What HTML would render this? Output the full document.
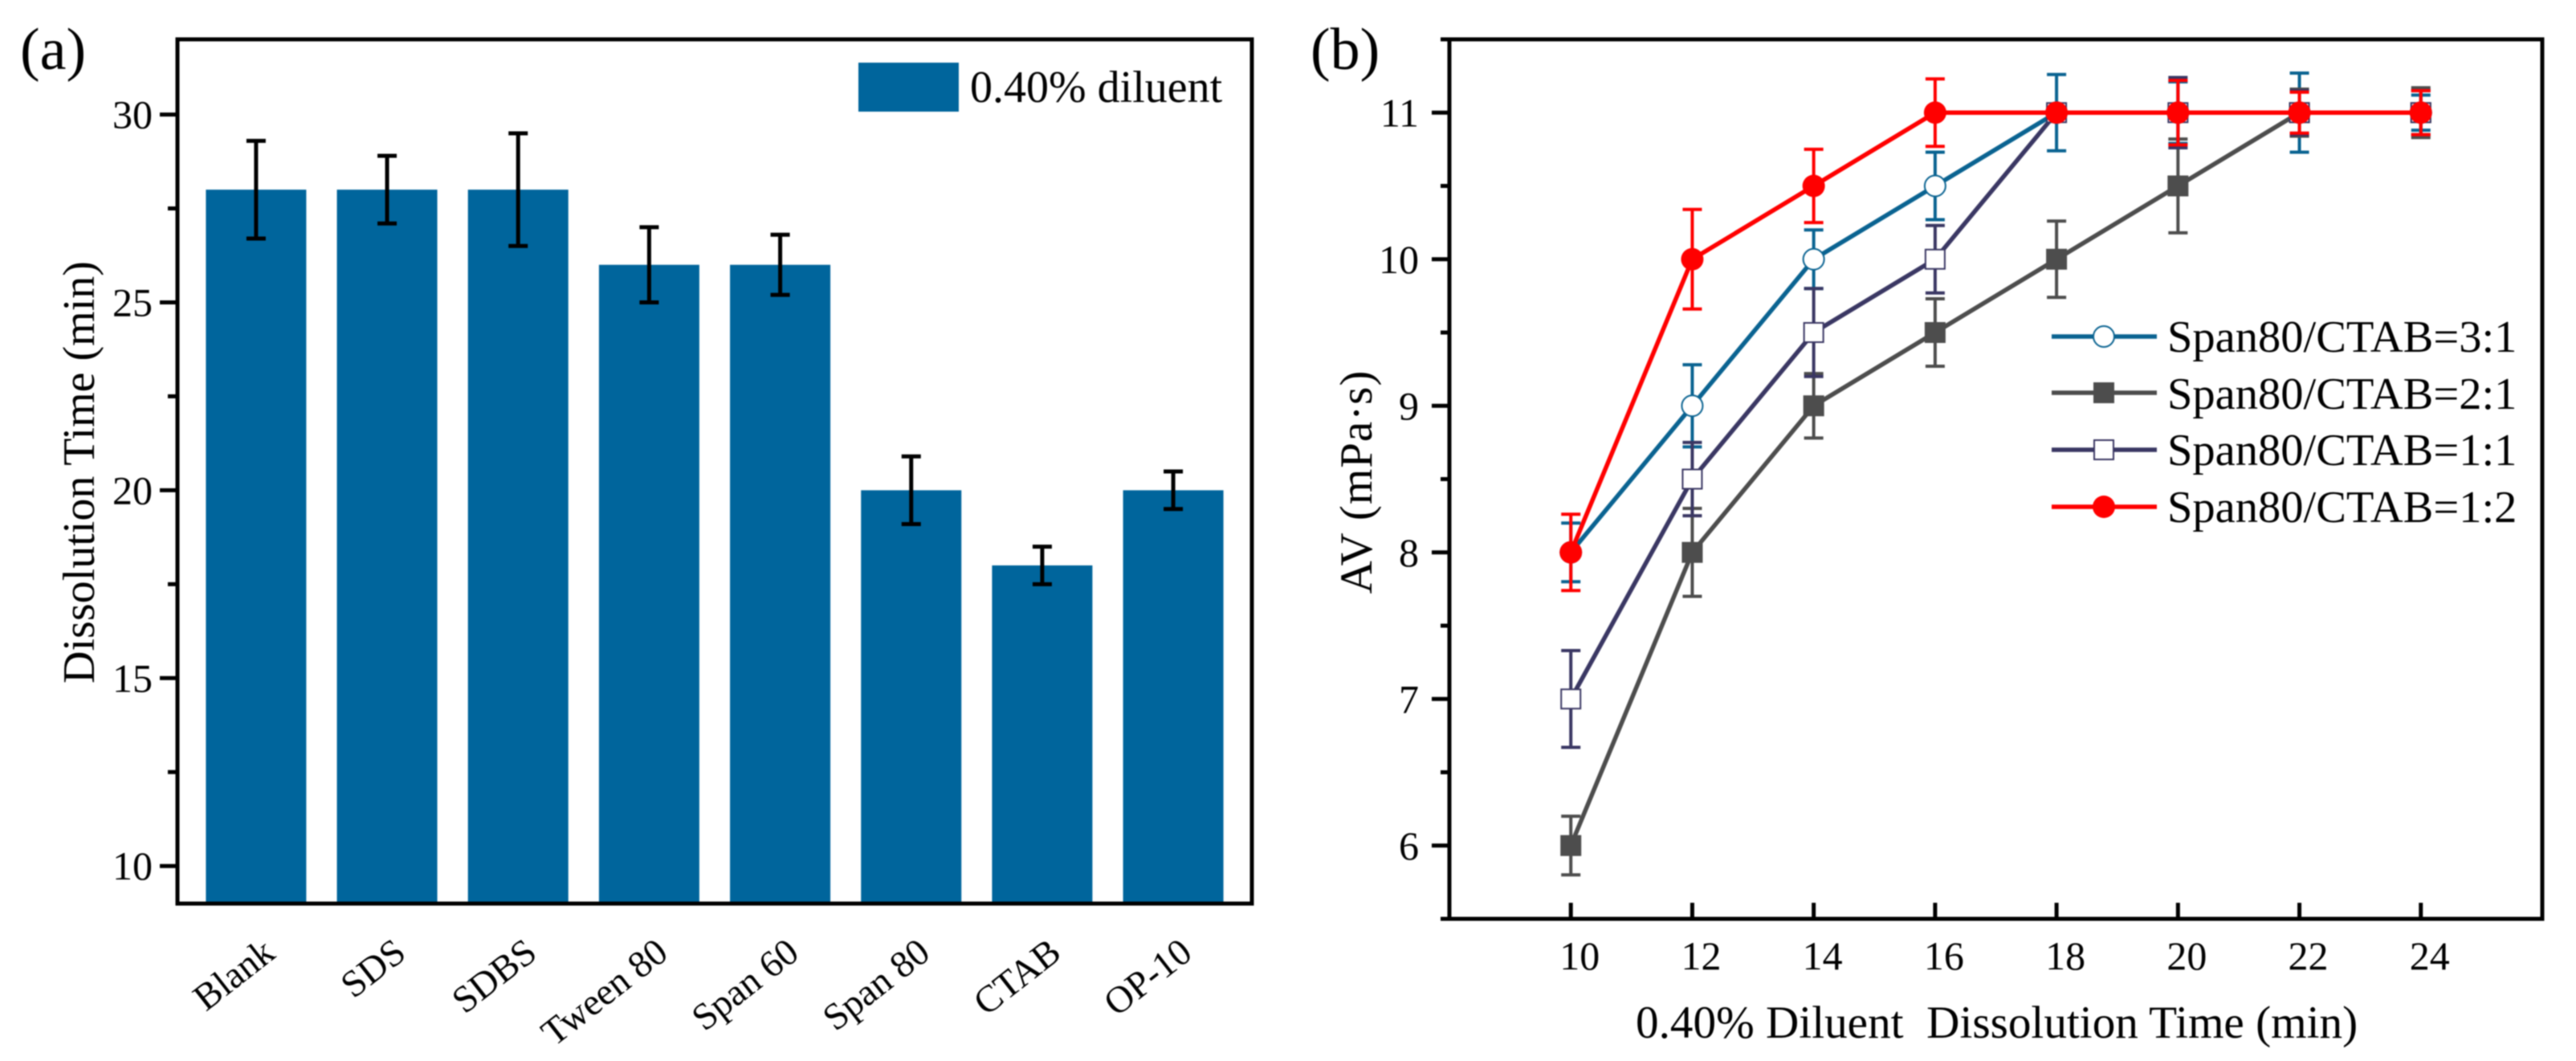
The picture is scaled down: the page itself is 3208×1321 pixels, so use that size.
<!DOCTYPE html>
<html lang="en">
<head>
<meta charset="utf-8">
<title>Dissolution time and AV charts</title>
<style>
html,body{margin:0;padding:0;background:#fff;width:3208px;height:1321px;overflow:hidden}
svg{display:block;filter:blur(0.7px)}
text{font-family:"Liberation Serif","Times New Roman",serif;fill:#000}
</style>
</head>
<body>
<svg id="figure" xmlns="http://www.w3.org/2000/svg" width="3208" height="1321" viewBox="0 0 3208 1321">
  <rect x="0" y="0" width="3208" height="1321" fill="#fff"/>

  <g id="panelA">
    <text x="25" y="86" font-size="74">(a)</text>
    <g id="barsA"></g>
    <g id="errorsA"></g>
    <rect x="221" y="49" width="1338" height="1076" fill="none" stroke="#000" stroke-width="5"/>
    <g id="yTicksA"></g>
    <g id="xLabelsA"></g>
    <text transform="translate(117,588) rotate(-90)" text-anchor="middle" font-size="56">Dissolution Time (min)</text>
    <rect x="1069" y="78" width="125" height="61" fill="#00659c"/>
    <text x="1208" y="127" font-size="56">0.40% diluent</text>
  </g>

  <g id="panelB">
    <text x="1632" y="86" font-size="74">(b)</text>
    <rect x="1805" y="49" width="1361" height="1095" fill="none" stroke="#000" stroke-width="5"/>
    <g id="yTicksB"></g>
    <g id="xTicksB"></g>
    <g id="seriesB"></g>
    <text transform="translate(1708,600) rotate(-90)" text-anchor="middle" font-size="57" letter-spacing="1">AV (mPa·s)</text>
    <text x="2037" y="1292" font-size="57.2" xml:space="preserve">0.40% Diluent&#160; Dissolution Time (min)</text>

    <g>
      <g>
        <line x1="2555" x2="2686" y1="419" y2="419" stroke="#0a6391" stroke-width="5.5"/>
        <circle cx="2620" cy="419" r="13" fill="#fff" stroke="#0a6391" stroke-width="2"/>
        <text x="2699" y="438" font-size="56.5">Span80/CTAB=3:1</text>
      </g>
      <g>
        <line x1="2555" x2="2686" y1="489" y2="489" stroke="#4d4d4d" stroke-width="5.5"/>
        <rect x="2607" y="476" width="26" height="26" fill="#4d4d4d"/>
        <text x="2699" y="509" font-size="56.5">Span80/CTAB=2:1</text>
      </g>
      <g>
        <line x1="2555" x2="2686" y1="560" y2="560" stroke="#3a3763" stroke-width="5.5"/>
        <rect x="2608" y="548" width="24" height="24" fill="#fff" stroke="#3a3763" stroke-width="2"/>
        <text x="2699" y="579" font-size="56.5">Span80/CTAB=1:1</text>
      </g>
      <g>
        <line x1="2555" x2="2686" y1="631" y2="631" stroke="#ff0000" stroke-width="5.5"/>
        <circle cx="2620" cy="631" r="14" fill="#ff0000"/>
        <text x="2699" y="650" font-size="56.5">Span80/CTAB=1:2</text>
      </g>
    </g>
  </g>
</svg>

<script>
// Panel (a) data
var categoriesA = ["Blank", "SDS", "SDBS", "Tween 80", "Span 60", "Span 80", "CTAB", "OP-10"];
var dissolutionTimes = [28, 28, 28, 26, 26, 20, 18, 20];
var dissolutionErrors = [1.3, 0.9, 1.5, 1.0, 0.8, 0.9, 0.5, 0.5];
var yTickValuesA = [10, 15, 20, 25, 30];
var yMinorTickValuesA = [12.5, 17.5, 22.5, 27.5];

// Panel (b) data
var timesB = [10, 12, 14, 16, 18, 20, 22, 24];
var ratio31Values = [8, 9, 10, 10.5, 11, 11, 11, 11];
var ratio31Errors = [0.2, 0.28, 0.2, 0.23, 0.26, 0.21, 0.27, 0.12];
var ratio21Values = [6, 8, 9, 9.5, 10, 10.5, 11, 11];
var ratio21Errors = [0.2, 0.3, 0.22, 0.23, 0.26, 0.32, 0.16, 0.17];
var ratio11Values = [7, 8.5, 9.5, 10, 11, 11, 11, 11];
var ratio11Errors = [0.33, 0.25, 0.3, 0.23, 0, 0.24, 0.15, 0.15];
var ratio12Values = [8, 10, 10.5, 11, 11, 11, 11, 11];
var ratio12Errors = [0.26, 0.34, 0.25, 0.23, 0, 0.22, 0.14, 0.15];
var yTickValuesB = [6, 7, 8, 9, 10, 11];
var yMinorTickValuesB = [5.5, 6.5, 7.5, 8.5, 9.5, 10.5, 11.5];
var xTickValuesB = [10, 12, 14, 16, 18, 20, 22, 24];

var NS = "http://www.w3.org/2000/svg";
function mk(tag, parent, geom) {
  var n = document.createElementNS(NS, tag);
  for (var k in geom) n.setAttribute(k, geom[k]);
  parent.appendChild(n);
  return n;
}

// Axis functions, panel (a)
function xA(i) { return 221 + (i + 1 - 0.4) / 8.2 * 1338; }
function yA(v) { return 49 + (32 - v) / 23 * 1076; }
// Axis functions, panel (b)
function xB(v) { return 1805 + (v - 8) / 18 * 1361; }
function yB(v) { return 49 + (11.5 - v) / 6 * 1095; }

// ---- Panel (a) ----
var barsA = document.getElementById("barsA");
var errorsA = document.getElementById("errorsA");
var barWidth = 125;
categoriesA.forEach(function (name, i) {
  var cx = xA(i), top = yA(dissolutionTimes[i]);
  var bar = mk("rect", barsA, { x: cx - barWidth / 2, y: top, width: barWidth, height: yA(9) - top, fill: "#00659c" });
  
  

  var hi = yA(dissolutionTimes[i] + dissolutionErrors[i]);
  var lo = yA(dissolutionTimes[i] - dissolutionErrors[i]);
  var err = mk("path", errorsA, {
    d: "M" + cx + " " + hi + "V" + lo + "M" + (cx - 12) + " " + hi + "H" + (cx + 12) + "M" + (cx - 12) + " " + lo + "H" + (cx + 12),
    stroke: "#000", "stroke-width": 5, fill: "none"
  });
  
  
});

var yTicksA = document.getElementById("yTicksA");
yTickValuesA.forEach(function (v) {
  var t = mk("line", yTicksA, { x1: 199, x2: 221, y1: yA(v), y2: yA(v), stroke: "#000", "stroke-width": 5 });
  
  
  var l = mk("text", yTicksA, { x: 190, y: yA(v) + 17, "text-anchor": "end", "font-size": 50 });
  l.textContent = String(v);
  
  
});
yMinorTickValuesA.forEach(function (v) {
  var t = mk("line", yTicksA, { x1: 209, x2: 221, y1: yA(v), y2: yA(v), stroke: "#000", "stroke-width": 5 });
  
  
});

var xLabelsA = document.getElementById("xLabelsA");
categoriesA.forEach(function (name, i) {
  var lx = xA(i) + 26, ly = 1191;
  var l = mk("text", xLabelsA, { x: lx, y: ly, "text-anchor": "end", "font-size": 47, transform: "rotate(-38 " + lx + " " + ly + ")" });
  l.textContent = name;
  
  
});

// ---- Panel (b) ----
var yTicksB = document.getElementById("yTicksB");
yTickValuesB.forEach(function (v) {
  var t = mk("line", yTicksB, { x1: 1783, x2: 1805, y1: yB(v), y2: yB(v), stroke: "#000", "stroke-width": 5 });
  
  
  var l = mk("text", yTicksB, { x: 1767, y: yB(v) + 17, "text-anchor": "end", "font-size": 50 });
  l.textContent = String(v);
  
  
});
yMinorTickValuesB.forEach(function (v) {
  var t = mk("line", yTicksB, { x1: 1794, x2: 1805, y1: yB(v), y2: yB(v), stroke: "#000", "stroke-width": 5 });
  
  
});

var xTicksB = document.getElementById("xTicksB");
xTickValuesB.forEach(function (v) {
  var t = mk("line", xTicksB, { x1: xB(v), x2: xB(v), y1: 1124, y2: 1144, stroke: "#000", "stroke-width": 5 });
  
  
  var l = mk("text", xTicksB, { x: xB(v) + 11, y: 1207, "text-anchor": "middle", "font-size": 50 });
  l.textContent = String(v);
  
  
});

var seriesB = document.getElementById("seriesB");
function drawSeries(key, values, errors, color, markerType) {
  var g = mk("g", seriesB, {});
  
  

  values.forEach(function (v, i) {
    if (!errors[i]) return;
    var cx = xB(timesB[i]), hi = yB(v + errors[i]), lo = yB(v - errors[i]);
    var e = mk("path", g, {
      d: "M" + cx + " " + hi + "V" + lo + "M" + (cx - 12) + " " + hi + "H" + (cx + 12) + "M" + (cx - 12) + " " + lo + "H" + (cx + 12),
      stroke: color, "stroke-width": 4, fill: "none"
    });
    
    
  });

  var pts = values.map(function (v, i) { return xB(timesB[i]) + "," + yB(v); }).join(" ");
  var line = mk("polyline", g, { points: pts, fill: "none", stroke: color, "stroke-width": 5.5, "stroke-linejoin": "round" });
  
  

  values.forEach(function (v, i) {
    var cx = xB(timesB[i]), cy = yB(v), m;
    if (markerType === "open-circle") {
      m = mk("circle", g, { cx: cx, cy: cy, r: 13, fill: "#fff", stroke: color, "stroke-width": 2 });
    } else if (markerType === "filled-circle") {
      m = mk("circle", g, { cx: cx, cy: cy, r: 14, fill: color });
    } else if (markerType === "open-square") {
      m = mk("rect", g, { x: cx - 12, y: cy - 12, width: 24, height: 24, fill: "#fff", stroke: color, "stroke-width": 2 });
    } else {
      m = mk("rect", g, { x: cx - 13, y: cy - 13, width: 26, height: 26, fill: color });
    }
    
    
  });
}
drawSeries("ratio-3-1", ratio31Values, ratio31Errors, "#0a6391", "open-circle");
drawSeries("ratio-2-1", ratio21Values, ratio21Errors, "#4d4d4d", "filled-square");
drawSeries("ratio-1-1", ratio11Values, ratio11Errors, "#3a3763", "open-square");
drawSeries("ratio-1-2", ratio12Values, ratio12Errors, "#ff0000", "filled-circle");
</script>
</body>
</html>
